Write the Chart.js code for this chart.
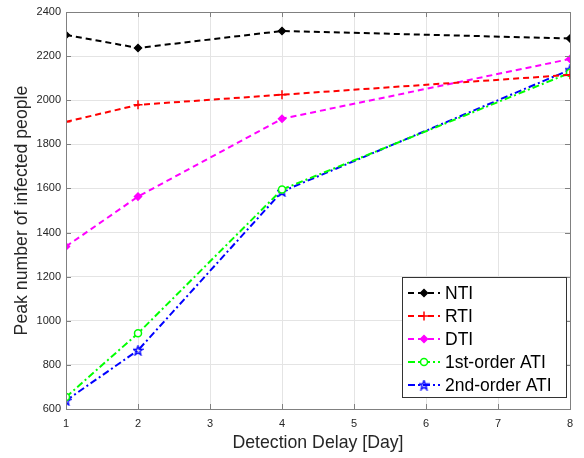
<!DOCTYPE html>
<html><head><meta charset="utf-8">
<script src="https://cdn.jsdelivr.net/npm/chart.js@4/dist/chart.umd.min.js"></script>
<style>html,body{margin:0;padding:0;background:#fff;}#wrap{width:584px;height:458px;}</style>
</head><body><div id="wrap"><canvas id="c" width="584" height="458"></canvas></div>
<script>
const delays = [1, 2, 4, 8];
const xTicks = [1, 2, 3, 4, 5, 6, 7, 8];
const yTicks = [600, 800, 1000, 1200, 1400, 1600, 1800, 2000, 2200, 2400];
const seriesNames = ["NTI", "RTI", "DTI", "1st-order ATI", "2nd-order ATI"];
const nti = [2296, 2237, 2314, 2280];
const rti = [1902, 1979, 2025, 2115];
const dti = [1337, 1563, 1916, 2187];
const ati1 = [654, 943, 1595, 2124];
const ati2 = [638, 866, 1586, 2138];

function starCanvas(color){
  const c=document.createElement('canvas');c.width=11;c.height=11;
  const g=c.getContext('2d');g.strokeStyle=color;g.lineWidth=1.4;g.beginPath();
  for(let i=0;i<10;i++){const r=i%2?2:4.8;const a=-Math.PI/2+i*Math.PI/5;
    const x=5.5+r*Math.cos(a),y=5.9+r*Math.sin(a);i?g.lineTo(x,y):g.moveTo(x,y);}
  g.closePath();g.stroke();return c;
}
const dashed=[6,4], dashdot=[7,3,2,3];
const styles=[
 {color:'#000000',dash:dashed,pointStyle:'rectRot',r:3.5,fill:true},
 {color:'#ff0000',dash:dashed,pointStyle:'cross',r:4.5,fill:false},
 {color:'#ff00ff',dash:dashed,pointStyle:'rectRot',r:3.5,fill:true},
 {color:'#00ff00',dash:dashdot,pointStyle:'circle',r:3.5,fill:false},
 {color:'#0000ff',dash:dashdot,pointStyle:starCanvas('#0000ff'),r:4.5,fill:false}
];
const values=[nti,rti,dti,ati1,ati2];
const datasets=seriesNames.map((n,i)=>({
  label:n,
  data:delays.map((d,j)=>({x:d,y:values[i][j]})),
  borderColor:styles[i].color,borderWidth:2,borderDash:styles[i].dash,
  pointStyle:styles[i].pointStyle,pointRadius:styles[i].r,
  pointBackgroundColor:styles[i].fill?styles[i].color:'#ffffff',
  pointBorderColor:styles[i].color,pointBorderWidth:1.5,
  fill:false,tension:0
}));

const extras={id:'extras',
 afterDraw(chart){
  const ctx=chart.ctx,a=chart.chartArea,xs=chart.scales.x,ys=chart.scales.y;
  ctx.save();
  ctx.strokeStyle='#808080';ctx.lineWidth=1;
  ctx.beginPath();
  xTicks.forEach(t=>{const p=Math.round(xs.getPixelForValue(t))+0.5;
    ctx.moveTo(p,a.bottom);ctx.lineTo(p,a.bottom-5);ctx.moveTo(p,a.top);ctx.lineTo(p,a.top+5);});
  yTicks.forEach(t=>{const p=Math.round(ys.getPixelForValue(t))+0.5;
    ctx.moveTo(a.left,p);ctx.lineTo(a.left+5,p);ctx.moveTo(a.right,p);ctx.lineTo(a.right-5,p);});
  ctx.stroke();
  ctx.strokeRect(Math.round(a.left)+0.5,Math.round(a.top)+0.5,Math.round(a.right-a.left),Math.round(a.bottom-a.top));
  // legend
  const lx=402.5,ly=277.5,lw=164,lh=120;
  ctx.fillStyle='#fff';ctx.fillRect(lx,ly,lw,lh);
  ctx.strokeStyle='#333';ctx.lineWidth=1;ctx.strokeRect(lx,ly,lw,lh);
  ctx.font='17.5px "Liberation Sans", Arial, sans-serif';ctx.textBaseline='middle';
  chart.data.datasets.forEach((ds,i)=>{
    const y=ly+15.5+i*23;
    ctx.strokeStyle=ds.borderColor;ctx.lineWidth=2;ctx.setLineDash(ds.borderDash);
    ctx.beginPath();ctx.moveTo(408,y);ctx.lineTo(440,y);ctx.stroke();ctx.setLineDash([]);
    const ps=ds.pointStyle;
    ctx.lineWidth=1.5;
    ctx.fillStyle=ds.pointBackgroundColor;ctx.strokeStyle=ds.borderColor;
    Chart.helpers.drawPoint(ctx,{pointStyle:ps,radius:ds.pointRadius,borderWidth:1.5},424,y);
    ctx.fillStyle='#000';ctx.fillText(ds.label,445,y+1);
  });
  ctx.restore();
 }};

const fam='"Liberation Sans", Arial, sans-serif';
new Chart(document.getElementById('c'),{
 type:'line',
 data:{datasets},
 options:{
  responsive:false,animation:false,devicePixelRatio:1,
  layout:{padding:{top:12,right:14,left:0,bottom:0}},
  plugins:{legend:{display:false},tooltip:{enabled:false}},
  scales:{
   x:{type:'linear',min:1,max:8,
      afterBuildTicks(s){s.ticks=xTicks.map(v=>({value:v}));},
      afterFit(s){s.height=49;},
      grid:{color:'#e4e4e4',drawTicks:false},border:{display:false},
      ticks:{color:'#262626',font:{size:11,family:fam},padding:8,callback:v=>String(v)},
      title:{display:true,text:'Detection Delay [Day]',color:'#262626',font:{size:17.7,family:fam},padding:{top:1}}},
   y:{min:600,max:2400,
      afterBuildTicks(s){s.ticks=yTicks.map(v=>({value:v}));},
      afterFit(s){s.width=66;},
      grid:{color:'#e4e4e4',drawTicks:false},border:{display:false},
      ticks:{color:'#262626',font:{size:11,family:fam},padding:5,callback:v=>String(v)},
      title:{display:true,text:'Peak number of infected people',color:'#262626',font:{size:17.7,family:fam},padding:{top:11,bottom:0}}}
  }
 },
 plugins:[extras]
});
</script></body></html>
